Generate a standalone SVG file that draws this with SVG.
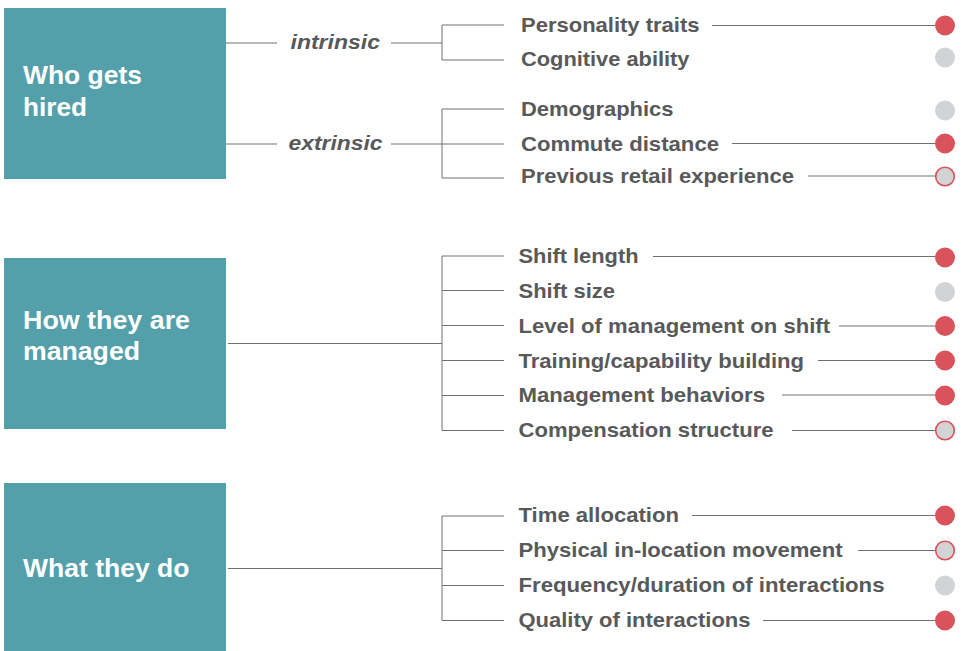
<svg xmlns="http://www.w3.org/2000/svg" width="964" height="651" viewBox="0 0 964 651">
<style>
.box{fill:#53a0aa}
.bt{font-family:"Liberation Sans",Arial,sans-serif;font-weight:bold;font-size:25.5px;fill:#fff}
.it{font-family:"Liberation Sans",Arial,sans-serif;font-weight:bold;font-size:20.5px;fill:#58595b}
.cat{font-family:"Liberation Sans",Arial,sans-serif;font-weight:bold;font-style:italic;font-size:21px;fill:#58595b}
.ln{stroke:#707070;stroke-width:1;fill:none}
.red{fill:#d9535c}
.gray{fill:#d1d3d4}
.out{fill:#d1d3d4;stroke:#d9535c;stroke-width:1.6}
</style>
<rect width="964" height="651" fill="#fff"/>
<g id="connectors">
<path class="ln" d="M226 43H277M391 43H442M442 25V60M442 25H504M442 60H504"/>
<path class="ln" d="M226 144H277M391 144H442M442 109V178M442 109H504M442 144H504M442 178H504"/>
<path class="ln" d="M228 343.5H442M442 256V430.5M442 256H504M442 290.5H504M442 325.5H504M442 360.5H504M442 395.5H504M442 430.5H504"/>
<path class="ln" d="M228 568.5H442M442 516V620.5M442 516H504M442 550.5H504M442 585.5H504M442 620.5H504"/>
<path class="ln" d="M712 25.5H935M732 143.5H935M808 176H935"/>
<path class="ln" d="M653 256.5H935M839 326H935M818 360.5H935M782 395H935M792 430.5H935"/>
<path class="ln" d="M692 515.5H935M858 550.5H935M763 620.5H935"/>
</g>
<g id="who-gets-hired">
<rect class="box" x="4" y="8" width="222" height="171"/>
<text class="bt" x="23" y="83.5" textLength="119" lengthAdjust="spacingAndGlyphs">Who gets</text>
<text class="bt" x="23" y="116" textLength="64" lengthAdjust="spacingAndGlyphs">hired</text>
</g>
<g id="how-managed">
<rect class="box" x="4" y="258" width="222" height="171"/>
<text class="bt" x="23" y="328.5" textLength="167" lengthAdjust="spacingAndGlyphs">How they are</text>
<text class="bt" x="23" y="359.5" textLength="117" lengthAdjust="spacingAndGlyphs">managed</text>
</g>
<g id="what-they-do">
<rect class="box" x="4" y="483" width="222" height="168"/>
<text class="bt" x="23" y="577" textLength="166.5" lengthAdjust="spacingAndGlyphs">What they do</text>
</g>
<g id="intrinsic"><text class="cat" x="290.5" y="48.5" textLength="89.5" lengthAdjust="spacingAndGlyphs">intrinsic</text></g>
<g id="extrinsic"><text class="cat" x="288.5" y="150" textLength="94" lengthAdjust="spacingAndGlyphs">extrinsic</text></g>
<g id="personality"><text class="it" x="521" y="32" textLength="178.5" lengthAdjust="spacingAndGlyphs">Personality traits</text><circle class="red" cx="945" cy="25.5" r="10"/></g>
<g id="cognitive"><text class="it" x="521" y="66" textLength="168.5" lengthAdjust="spacingAndGlyphs">Cognitive ability</text><circle class="gray" cx="945" cy="57.5" r="10"/></g>
<g id="demographics"><text class="it" x="521" y="116" textLength="152.5" lengthAdjust="spacingAndGlyphs">Demographics</text><circle class="gray" cx="945" cy="110.5" r="10"/></g>
<g id="commute"><text class="it" x="521" y="150.5" textLength="198" lengthAdjust="spacingAndGlyphs">Commute distance</text><circle class="red" cx="945" cy="143.5" r="10"/></g>
<g id="retail"><text class="it" x="521" y="183" textLength="273" lengthAdjust="spacingAndGlyphs">Previous retail experience</text><circle class="out" cx="945" cy="176.5" r="9.3"/></g>
<g id="shift-length"><text class="it" x="518.5" y="263" textLength="120" lengthAdjust="spacingAndGlyphs">Shift length</text><circle class="red" cx="945" cy="257.5" r="10"/></g>
<g id="shift-size"><text class="it" x="518.5" y="297.5" textLength="96.5" lengthAdjust="spacingAndGlyphs">Shift size</text><circle class="gray" cx="945" cy="292" r="10"/></g>
<g id="level-mgmt"><text class="it" x="518.5" y="332.5" textLength="311.5" lengthAdjust="spacingAndGlyphs">Level of management on shift</text><circle class="red" cx="945" cy="326" r="10"/></g>
<g id="training"><text class="it" x="518.5" y="367.5" textLength="285.5" lengthAdjust="spacingAndGlyphs">Training/capability building</text><circle class="red" cx="945" cy="360.5" r="10"/></g>
<g id="mgmt-behaviors"><text class="it" x="518.5" y="402" textLength="246.5" lengthAdjust="spacingAndGlyphs">Management behaviors</text><circle class="red" cx="945" cy="395.5" r="10"/></g>
<g id="compensation"><text class="it" x="518.5" y="437" textLength="255" lengthAdjust="spacingAndGlyphs">Compensation structure</text><circle class="out" cx="945" cy="430.5" r="9.3"/></g>
<g id="time-allocation"><text class="it" x="518.5" y="521.5" textLength="160.5" lengthAdjust="spacingAndGlyphs">Time allocation</text><circle class="red" cx="945" cy="515.5" r="10"/></g>
<g id="physical-movement"><text class="it" x="518.5" y="556.5" textLength="324" lengthAdjust="spacingAndGlyphs">Physical in-location movement</text><circle class="out" cx="945" cy="550.5" r="9.3"/></g>
<g id="frequency"><text class="it" x="518.5" y="591.5" textLength="366" lengthAdjust="spacingAndGlyphs">Frequency/duration of interactions</text><circle class="gray" cx="945" cy="585.5" r="10"/></g>
<g id="quality"><text class="it" x="518.5" y="626.5" textLength="232" lengthAdjust="spacingAndGlyphs">Quality of interactions</text><circle class="red" cx="945" cy="620.5" r="10"/></g>
</svg>
